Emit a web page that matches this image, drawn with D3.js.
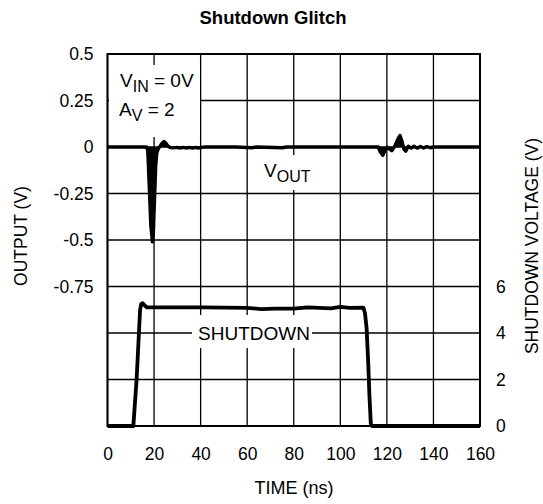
<!DOCTYPE html>
<html>
<head>
<meta charset="utf-8">
<script src="https://cdn.jsdelivr.net/npm/d3@7"></script>
<style>
  html, body { margin: 0; padding: 0; background: #fff; }
  svg { display: block; font-family: "Liberation Sans", Arial, Helvetica, sans-serif; }
</style>
</head>
<body>
<div id="chart"></div>
<script>
// time axis (ns)
const timeTicks = [0, 20, 40, 60, 80, 100, 120, 140, 160];
const outputTicks = [0.5, 0.25, 0, -0.25, -0.5, -0.75];
const shutdownTicks = [0, 2, 4, 6];

// V_OUT trace: time (ns) / output (V)
const voutTime = [0, 16.8, 17.3, 17.9, 18.6, 19.3, 19.7, 20.2, 20.7, 21.2, 21.8, 22.6, 23.4, 24.3, 25.1, 25.9, 26.8, 28, 30, 31, 32.5, 34, 35, 36.5, 38, 39, 40.5, 42, 55, 62, 64, 75, 77, 100, 116.3, 117.1, 118.2, 119.2, 120.1, 121.0, 122.1, 123.4, 124.6, 125.6, 126.4, 127.3, 128.1, 129.2, 130.4, 131.6, 133.0, 134.4, 135.8, 137.2, 138.6, 140, 160];
const voutValue = [0, 0, -0.02, -0.2, -0.42, -0.51, -0.46, -0.28, -0.1, -0.03, -0.01, 0.005, 0.02, 0.03, 0.02, 0.006, -0.002, -0.005, -0.002, -0.006, -0.002, -0.006, -0.002, -0.006, -0.002, -0.006, -0.002, 0, 0, -0.004, 0, -0.004, 0, 0, 0, -0.025, -0.045, -0.02, 0, -0.01, -0.02, 0.005, 0.04, 0.062, 0.035, -0.01, -0.022, 0.004, -0.006, 0.004, -0.006, 0.003, -0.005, 0.002, -0.004, 0, 0];

// SHUTDOWN trace: time (ns) / shutdown voltage (V)
const sdTime = [0, 11.1, 11.8, 12.5, 13.0, 13.5, 14.0, 14.5, 15.1, 16.0, 17.0, 40, 60, 66, 72, 80, 86, 96, 100, 104, 109.9, 110.6, 111.3, 112.0, 112.5, 113.1, 113.6, 160];
const sdValue = [0, 0, 1.0, 2.0, 3.0, 4.0, 5.0, 5.25, 5.28, 5.18, 5.1, 5.1, 5.08, 5.03, 5.05, 5.05, 5.1, 5.06, 5.12, 5.08, 5.09, 4.85, 4.2, 2.7, 1.33, 0.1, 0, 0];

const width = 543, height = 504;
const margin = {top: 54, right: 63, bottom: 78, left: 107.5};

const svg = d3.select("#chart").append("svg")
  .attr("width", width)
  .attr("height", height);

const x = d3.scaleLinear().domain([0, 160]).range([margin.left, width - margin.right]);
const yOut = d3.scaleLinear().domain([-1.5, 0.5]).range([height - margin.bottom, margin.top]);
const ySd = d3.scaleLinear().domain([0, 16]).range([height - margin.bottom, margin.top]);

const fs = 17.5;

// grid
const grid = svg.append("g");
grid.selectAll("line.v").data(timeTicks).join("line")
  .attr("x1", d => x(d)).attr("x2", d => x(d))
  .attr("y1", margin.top).attr("y2", height - margin.bottom)
  .attr("stroke", "#000").attr("stroke-width", 1.3);
grid.selectAll("line.h").data(d3.range(-1.5, 0.51, 0.25)).join("line")
  .attr("x1", margin.left).attr("x2", width - margin.right)
  .attr("y1", d => yOut(d)).attr("y2", d => yOut(d))
  .attr("stroke", "#000").attr("stroke-width", 1.3);

// frame
svg.append("rect")
  .attr("x", margin.left).attr("y", margin.top)
  .attr("width", x(160) - x(0)).attr("height", yOut(-1.5) - yOut(0.5))
  .attr("fill", "none").attr("stroke", "#000").attr("stroke-width", 2);

// white boxes behind labels (they break the grid like the original)
svg.append("rect").attr("x", margin.left + 1.5).attr("y", 65).attr("width", 91).attr("height", 72).attr("fill", "#fff");
svg.append("rect").attr("x", 258).attr("y", 155).attr("width", 58).attr("height", 35).attr("fill", "#fff");
svg.append("rect").attr("x", 192).attr("y", 315).attr("width", 120).attr("height", 33).attr("fill", "#fff");

// traces
const line = (ys, xs, scaleY) => d3.line()
  .x((d, i) => x(xs[i]))
  .y(d => scaleY(d))(ys);

svg.append("path")
  .attr("d", line(sdValue, sdTime, ySd))
  .attr("fill", "none").attr("stroke", "#000").attr("stroke-width", 3.8)
  .attr("stroke-linejoin", "round");

svg.append("path")
  .attr("d", line(voutValue, voutTime, yOut))
  .attr("fill", "#000").attr("stroke", "#000").attr("stroke-width", 3.4)
  .attr("stroke-linejoin", "round");

// axes
const axL = svg.append("g")
  .attr("transform", `translate(${margin.left},0)`)
  .call(d3.axisLeft(yOut).tickValues(outputTicks).tickSize(0).tickPadding(14)
    .tickFormat(d => d === 0 ? "0" : String(d)));
const axR = svg.append("g")
  .attr("transform", `translate(${width - margin.right},0)`)
  .call(d3.axisRight(ySd).tickValues(shutdownTicks).tickSize(0).tickPadding(16));
const axB = svg.append("g")
  .attr("transform", `translate(0,${height - margin.bottom})`)
  .call(d3.axisBottom(x).tickValues(timeTicks).tickSize(0).tickPadding(22));
[axL, axR, axB].forEach(a => {
  a.select(".domain").remove();
  a.selectAll("text").attr("font-size", fs).attr("font-family", null).attr("fill", "#000");
});

// titles
svg.append("text")
  .attr("x", 273).attr("y", 24)
  .attr("text-anchor", "middle").attr("font-weight", "bold").attr("font-size", 18.5)
  .text("Shutdown Glitch");
svg.append("text")
  .attr("x", 294).attr("y", 494)
  .attr("text-anchor", "middle").attr("font-size", 18)
  .text("TIME (ns)");
svg.append("text")
  .attr("transform", `translate(27,236) rotate(-90)`)
  .attr("text-anchor", "middle").attr("font-size", 17.5)
  .text("OUTPUT (V)");
svg.append("text")
  .attr("transform", `translate(538,246) rotate(-90)`)
  .attr("text-anchor", "middle").attr("font-size", 17.5)
  .text("SHUTDOWN VOLTAGE (V)");

// annotations
const ann = (xp, yp, main, sub, rest) => {
  const t = svg.append("text").attr("x", xp).attr("y", yp).attr("font-size", 19);
  t.append("tspan").text(main);
  t.append("tspan").attr("dy", 5).attr("font-size", 16).text(sub);
  if (rest) t.append("tspan").attr("dy", -5).text(rest);
};
ann(120, 87, "V", "IN", " = 0V");
ann(119, 116, "A", "V", " = 2");
ann(264, 177, "V", "OUT", null);

svg.append("text")
  .attr("x", 254).attr("y", 340)
  .attr("text-anchor", "middle").attr("font-size", 19)
  .text("SHUTDOWN");
</script>
</body>
</html>
